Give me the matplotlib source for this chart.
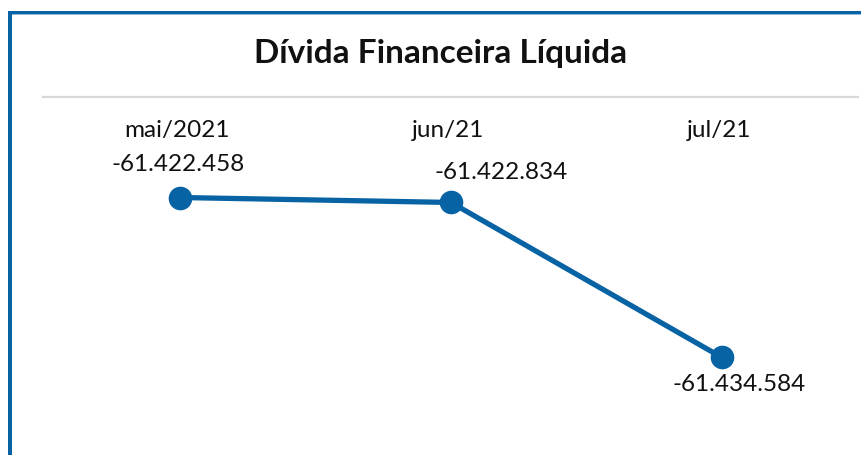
import matplotlib
matplotlib.use("Agg")
import matplotlib.pyplot as plt
from matplotlib.patches import Rectangle
from matplotlib.lines import Line2D

# data
categories = ["mai/2021", "jun/21", "jul/21"]
values = [-61422458, -61422834, -61434584]
value_labels = ["-61.422.458", "-61.422.834", "-61.434.584"]

BLUE = "#0863A5"
W, H = 861, 456
plt.rcParams["font.family"] = ["Lato", "DejaVu Sans"]

fig = plt.figure(figsize=(W / 100, H / 100), dpi=100)

# frame: blue border on top and left
fig.patches.append(Rectangle((8 / W, 0), 4 / W, 1 - 12 / H, transform=fig.transFigure,
                             color=BLUE, lw=0))
fig.patches.append(Rectangle((8 / W, 1 - 15 / H), 1, 3 / H, transform=fig.transFigure,
                             color=BLUE, lw=0))
fig.patches.append(Rectangle((12 / W, 1 - 16 / H), 1, 1.2 / H, transform=fig.transFigure,
                             color="#8DBBE0", lw=0))

fig.text(441 / W, 1 - 54 / H, "Dívida Financeira Líquida", ha="center", va="center",
         fontsize=24, fontweight="bold", color="#111111")
fig.lines.append(Line2D([43 / W, 858 / W], [1 - 98 / H, 1 - 98 / H], transform=fig.transFigure,
                        color="#D9D9D9", lw=1.6))

# plot area
ax = fig.add_axes([45 / W, 6 / H, 813 / W, 344 / H])
x = range(len(values))
ax.plot(x, values, color=BLUE, lw=3.8, marker="o", ms=16, solid_capstyle="round")
ax.set_xlim(-0.498, 2.502)
ax.set_ylim(-61441520, -61415447)
ax.axis("off")

# category labels along the top
for i, c in enumerate(categories):
    ax.annotate(c, (i, 1), xycoords=("data", "axes fraction"), xytext=(-3, -25),
                textcoords="offset pixels", ha="center", va="center", fontsize=17.5, color="#111111")

# data labels
offsets = [(-2, 34), (50, 31), (17, -26)]
for i, (v, lab) in enumerate(zip(values, value_labels)):
    ax.annotate(lab, (i, v), xytext=offsets[i], textcoords="offset pixels",
                ha="center", va="center", fontsize=17.5, color="#111111")

fig.savefig("out.png", dpi=100)
